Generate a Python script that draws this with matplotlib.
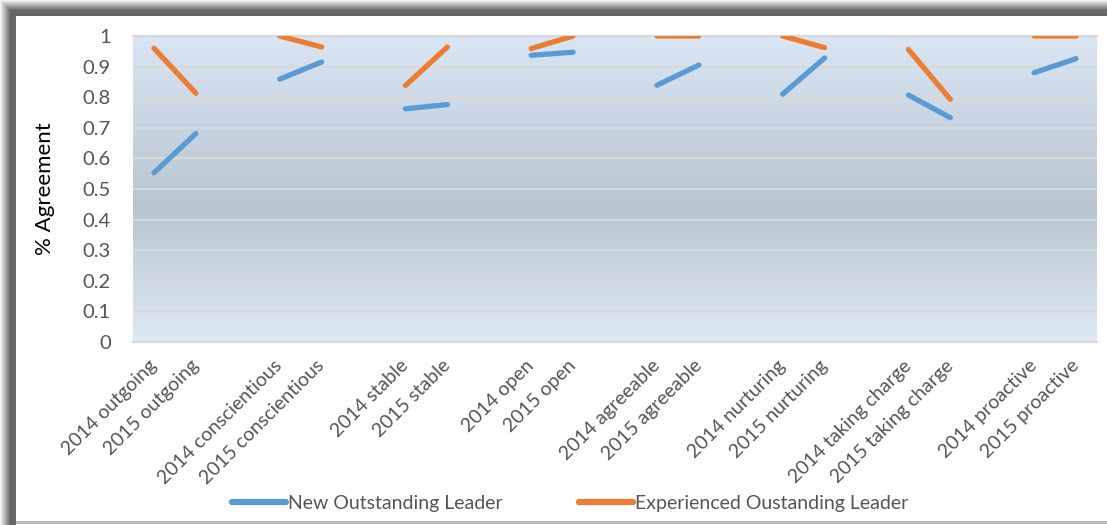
import matplotlib.pyplot as plt
import numpy as np
from matplotlib.colors import LinearSegmentedColormap

nan = float('nan')

# categories, with empty slots between each trait pair
categories = ['2014 outgoing', '2015 outgoing', '',
              '2014 conscientious', '2015 conscientious', '',
              '2014 stable', '2015 stable', '',
              '2014 open', '2015 open', '',
              '2014 agreeable', '2015 agreeable', '',
              '2014 nurturing', '2015 nurturing', '',
              '2014 taking charge', '2015 taking charge', '',
              '2014 proactive', '2015 proactive']

new_leader = [0.553, 0.681, nan,
              0.859, 0.915, nan,
              0.762, 0.776, nan,
              0.937, 0.947, nan,
              0.839, 0.905, nan,
              0.810, 0.928, nan,
              0.807, 0.733, nan,
              0.880, 0.926]

exp_leader = [0.960, 0.813, nan,
              1.0, 0.964, nan,
              0.838, 0.964, nan,
              0.959, 1.0, nan,
              1.0, 1.0, nan,
              1.0, 0.962, nan,
              0.956, 0.793, nan,
              1.0, 1.0]

plt.rcParams['font.family'] = ['Lato', 'DejaVu Sans']
txt_color = '#555555'

W, H = 1107, 525
fig = plt.figure(figsize=(W / 100, H / 100), dpi=100)

# frame: dark shadow band on the left and top, thin grey line at the bottom
frame = np.ones((H, W))
ramp = np.concatenate([np.linspace(0.95, 0.45, 10), np.full(6, 0.40)])
for i, g in enumerate(ramp):
    frame[i:, i] = np.minimum(frame[i:, i], g)
    frame[i, i:] = np.minimum(frame[i, i:], g)
frame[H - 4:H - 1, 16:] = np.minimum(frame[H - 4:H - 1, 16:], 0.72)
bg = fig.add_axes([0, 0, 1, 1])
bg.imshow(frame, cmap='gray', vmin=0, vmax=1, aspect='auto', interpolation='nearest')
bg.set_axis_off()
bg.set_zorder(0)

ax = fig.add_axes([133 / W, (H - 342) / H, 964 / W, 306 / H])
ax.set_zorder(2)

x = np.arange(len(categories))

# gradient background of the plot area
cmap = LinearSegmentedColormap.from_list('bg', [(0, '#dee9f5'), (0.44, '#b9c6d2'), (1, '#dae6f3')])
grad = np.linspace(0, 1, 256).reshape(-1, 1)
ax.imshow(grad, aspect='auto', cmap=cmap, extent=[-0.5, len(categories) - 0.5, 0, 1],
          origin='lower', zorder=0)

ax.plot(x, new_leader, color='#5b9bd5', lw=3.8, solid_capstyle='round',
        label='New Outstanding Leader', zorder=3)
ax.plot(x, exp_leader, color='#ed7d31', lw=3.8, solid_capstyle='round',
        label='Experienced Oustanding Leader', zorder=3)

ax.set_xlim(-0.5, len(categories) - 0.5)
ax.set_ylim(0, 1)
ax.set_yticks(np.arange(0, 1.01, 0.1))
ax.set_yticklabels(['0', '0.1', '0.2', '0.3', '0.4', '0.5', '0.6', '0.7', '0.8', '0.9', '1'])
ax.grid(axis='y', color='#d9d9d9', lw=1.5)
for gl in ax.get_ygridlines():
    gl.set_zorder(1)

ax.set_xticks(x)
ax.set_xticklabels(categories, rotation=45, ha='right', va='center', rotation_mode='anchor')
ax.tick_params(axis='x', length=0, pad=15, labelsize=14, labelcolor=txt_color)
ax.tick_params(axis='y', length=0, pad=16, labelsize=14.5, labelcolor=txt_color)

for s in ['left', 'right']:
    ax.spines[s].set_visible(False)
for s in ['top', 'bottom']:
    ax.spines[s].set_color('#d9d9d9')
    ax.spines[s].set_linewidth(1.5)

ax.set_ylabel('% Agreement', fontsize=16, labelpad=20)

leg = fig.legend(loc='center', bbox_to_anchor=(570 / W, (H - 503) / H), ncol=2,
                 frameon=False, fontsize=14, handlelength=2.8, handletextpad=0.1,
                 columnspacing=3.9)
for t in leg.get_texts():
    t.set_color(txt_color)
for l in leg.get_lines():
    l.set_linewidth(4.5)

fig.savefig('out.png', dpi=100)
